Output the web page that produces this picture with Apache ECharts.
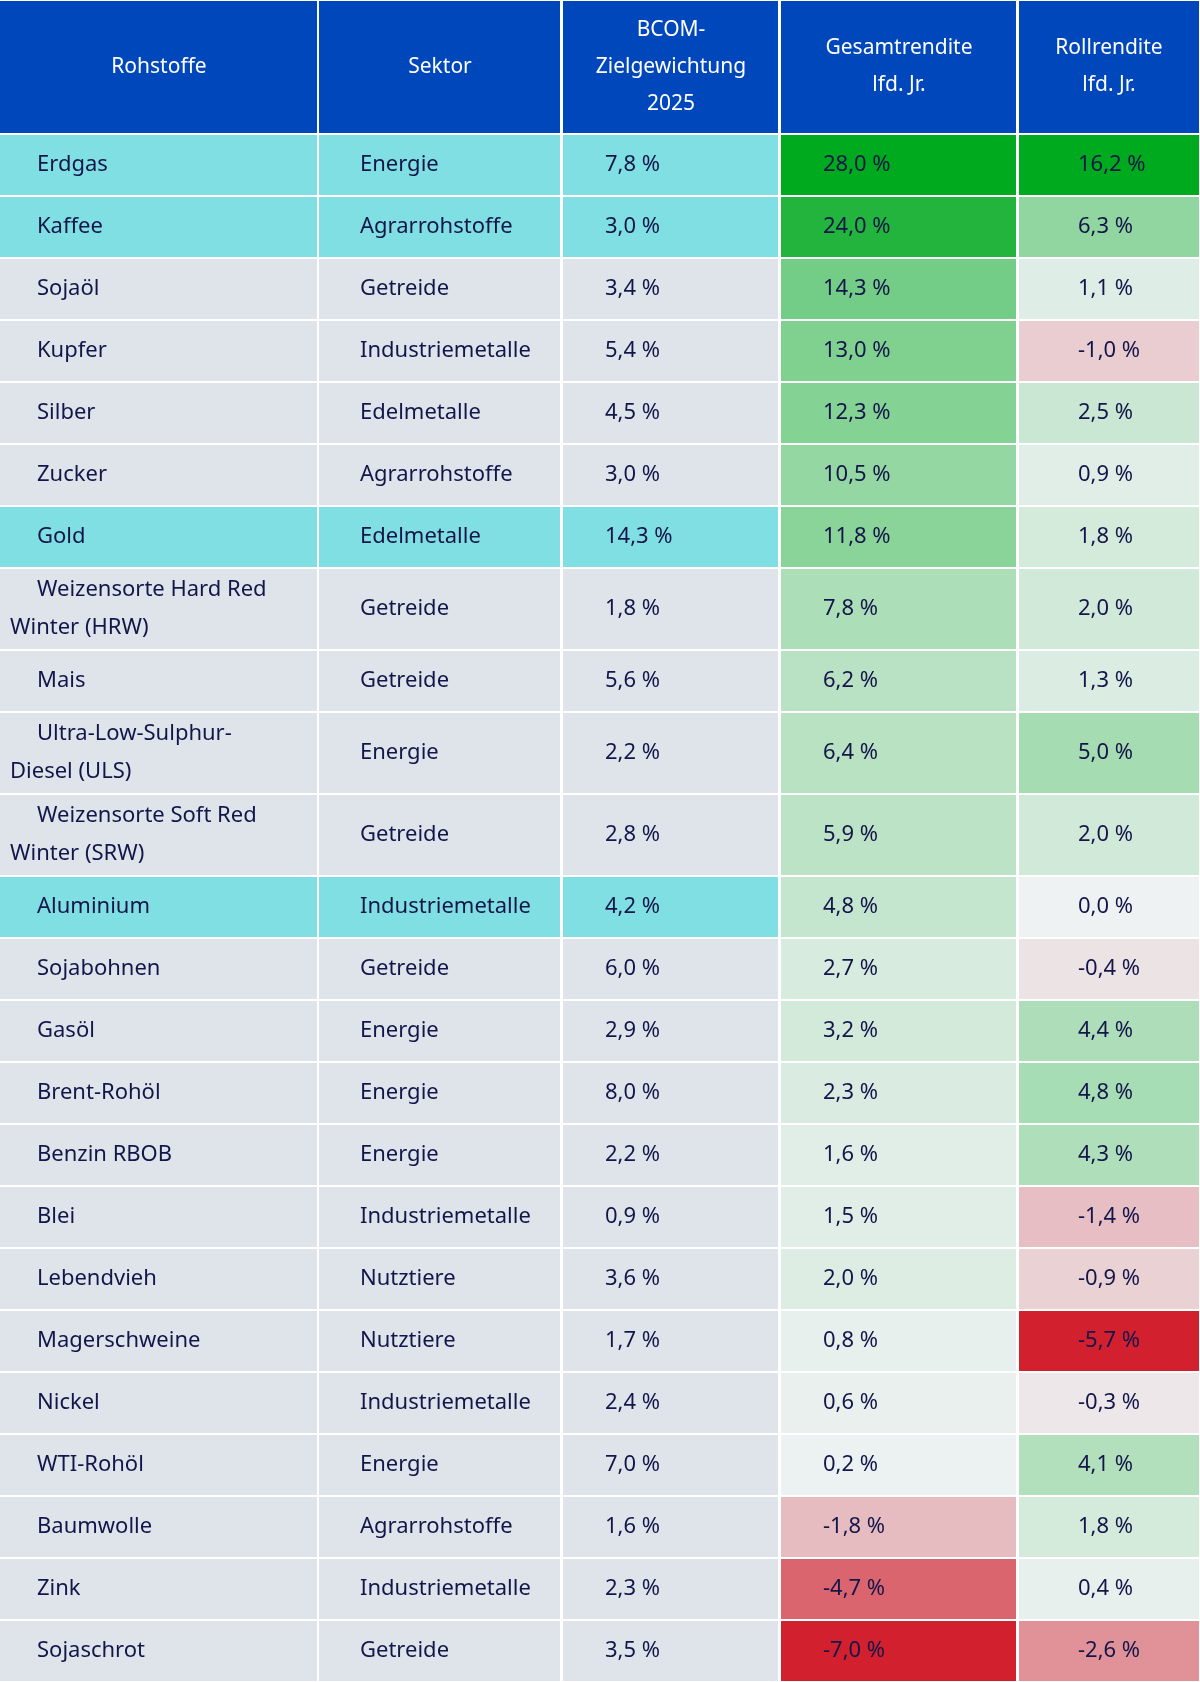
<!DOCTYPE html>
<html><head><meta charset="utf-8">
<script src="https://cdn.jsdelivr.net/npm/echarts@6/dist/echarts.min.js"></script>
<style>html,body{margin:0;padding:0;background:#fff}#c{width:1200px;height:1682px}</style>
</head><body><div id="c"></div>
<script>
const headers = ["Rohstoffe","Sektor","BCOM-\nZielgewichtung\n2025","Gesamtrendite\nlfd. Jr.","Rollrendite\nlfd. Jr."];
const commodities = ["Erdgas","Kaffee","Sojaöl","Kupfer","Silber","Zucker","Gold","Weizensorte Hard Red\nWinter (HRW)","Mais","Ultra-Low-Sulphur-\nDiesel (ULS)","Weizensorte Soft Red\nWinter (SRW)","Aluminium","Sojabohnen","Gasöl","Brent-Rohöl","Benzin RBOB","Blei","Lebendvieh","Magerschweine","Nickel","WTI-Rohöl","Baumwolle","Zink","Sojaschrot"];
const sectors = ["Energie","Agrarrohstoffe","Getreide","Industriemetalle","Edelmetalle","Agrarrohstoffe","Edelmetalle","Getreide","Getreide","Energie","Getreide","Industriemetalle","Getreide","Energie","Energie","Energie","Industriemetalle","Nutztiere","Nutztiere","Industriemetalle","Energie","Agrarrohstoffe","Industriemetalle","Getreide"];
const weights = [7.8,3.0,3.4,5.4,4.5,3.0,14.3,1.8,5.6,2.2,2.8,4.2,6.0,2.9,8.0,2.2,0.9,3.6,1.7,2.4,7.0,1.6,2.3,3.5];
const totalReturn = [28.0,24.0,14.3,13.0,12.3,10.5,11.8,7.8,6.2,6.4,5.9,4.8,2.7,3.2,2.3,1.6,1.5,2.0,0.8,0.6,0.2,-1.8,-4.7,-7.0];
const rollReturn = [16.2,6.3,1.1,-1.0,2.5,0.9,1.8,2.0,1.3,5.0,2.0,0.0,-0.4,4.4,4.8,4.3,-1.4,-0.9,-5.7,-0.3,4.1,1.8,0.4,-2.6];
const highlighted = [true,true,false,false,false,false,true,false,false,false,false,true,false,false,false,false,false,false,false,false,false,false,false,false];

// layout constants
const colEdges = [0,318,562,780,1018,1200];
const textX = [37,42,43,43,60];
const headerH = 134, rowH = 62, rowH2 = 82;
const fmt = v => v.toFixed(1).replace('.', ',') + ' %';

function mix(a,b,t){
  const pa=[1,3,5].map(i=>parseInt(a.substr(i,2),16)), pb=[1,3,5].map(i=>parseInt(b.substr(i,2),16));
  return 'rgb('+pa.map((x,i)=>Math.round(x+(pb[i]-x)*t)).join(',')+')';
}
function heat(v,max,min){
  if(v>=0) return mix('#EEF2F3','#00AA1E',Math.min(1,v/max));
  return mix('#EEF2F3','#D2202E',Math.min(1,v/min));
}
const tMax=Math.max(...totalReturn), tMin=Math.min(...totalReturn);
const rMax=Math.max(...rollReturn), rMin=Math.min(...rollReturn);

const cells=[];
// header
for(let c=0;c<5;c++) cells.push([colEdges[c],colEdges[c+1],0,headerH,'#0047BB',headers[c],'#ffffff',1]);
let y=headerH;
commodities.forEach((n,i)=>{
  const h = n.includes('\n')?rowH2:rowH;
  const base = highlighted[i]?'#80DFE3':'#DFE4EA';
  const vals=[n,sectors[i],fmt(weights[i]),fmt(totalReturn[i]),fmt(rollReturn[i])];
  const fills=[base,base,base,heat(totalReturn[i],tMax,tMin),heat(rollReturn[i],rMax,rMin)];
  for(let c=0;c<5;c++) cells.push([colEdges[c],colEdges[c+1],y,y+h,fills[c],vals[c],'#14164A',0,c]);
  y+=h;
});

const chart=echarts.init(document.getElementById('c'));
chart.setOption({
  animation:false,
  grid:{left:0,right:0,top:0,bottom:0},
  xAxis:{type:'value',min:0,max:1200,show:false},
  yAxis:{type:'value',min:0,max:1682,inverse:true,show:false},
  series:[{
    type:'custom',
    data:cells,
    renderItem:(params,api)=>{
      const x0=api.value(0),x1=api.value(1),y0=api.value(2),y1=api.value(3);
      const p0=api.coord([x0,y0]), p1=api.coord([x1,y1]);
      const d=cells[params.dataIndex];
      const fill=d[4], txt=d[5], col=d[6], isHead=d[7], c=d[8];
      const children=[{type:'rect',shape:{x:p0[0]+(x0>0?1:0),y:p0[1]+1,width:p1[0]-p0[0]-(x0>0?2:0)-(x1<1200?1:0),height:p1[1]-p0[1]-2},style:{fill:fill}}];
      const font='22px "Noto Sans", sans-serif';
      if(isHead){
        children.push({type:'text',style:{text:txt,x:(p0[0]+p1[0])/2,y:(p0[1]+p1[1])/2,align:'center',verticalAlign:'middle',fill:col,font:'21px "Noto Sans", sans-serif',lineHeight:37}});
      } else {
        const lines=txt.split('\n');
        if(lines.length===1){
          children.push({type:'text',style:{text:txt,x:p0[0]+textX[c],y:(p0[1]+p1[1])/2,align:'left',verticalAlign:'middle',fill:col,font:font}});
        } else {
          const my=(p0[1]+p1[1])/2;
          children.push({type:'text',style:{text:lines[0],x:p0[0]+textX[c],y:my-19,align:'left',verticalAlign:'middle',fill:col,font:font}});
          children.push({type:'text',style:{text:lines[1],x:p0[0]+10,y:my+19,align:'left',verticalAlign:'middle',fill:col,font:font}});
        }
      }
      return {type:'group',children:children};
    }
  }]
});
</script></body></html>
